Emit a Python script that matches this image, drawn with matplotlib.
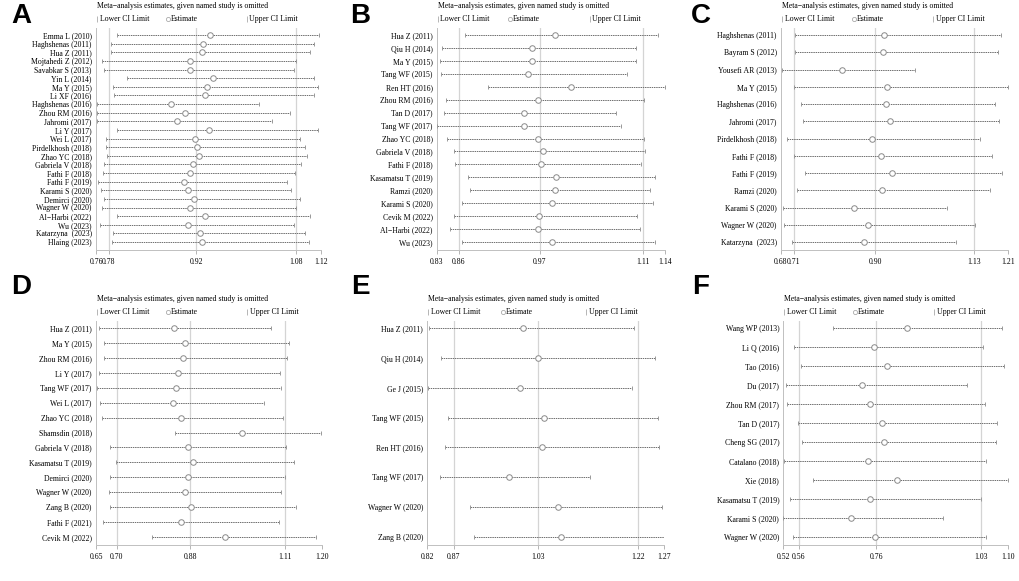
import matplotlib.pyplot as plt
from matplotlib.transforms import ScaledTranslation

plt.rcParams['font.family'] = ['Liberation Serif', 'DejaVu Serif']

# Panel A
a_studies = ['Emma L (2010)', 'Haghshenas (2011)', 'Hua Z (2011)', 'Mojtahedi Z (2012)', 'Savabkar S (2013)',
             'Yin L (2014)', 'Ma Y (2015)', 'Li XF (2016)', 'Haghshenas (2016)', 'Zhou RM (2016)',
             'Jahromi (2017)', 'Li Y (2017)', 'Wei L (2017)', 'Pirdelkhosh (2018)', 'Zhao YC (2018)',
             'Gabriela V (2018)', 'Fathi F (2018)', 'Fathi F (2019)', 'Karami S (2020)', 'Demirci (2020)',
             'Wagner W (2020)', 'Al−Harbi (2022)', 'Wu (2023)', 'Katarzyna  (2023)', 'Hlaing (2023)']
a_lo = [0.793, 0.784, 0.784, 0.770, 0.772, 0.810, 0.787, 0.789, 0.761, 0.762, 0.762, 0.793, 0.776, 0.776,
        0.778, 0.773, 0.771, 0.763, 0.768, 0.773, 0.769, 0.793, 0.766, 0.787, 0.786]
a_est = [0.942, 0.931, 0.929, 0.911, 0.911, 0.947, 0.938, 0.934, 0.880, 0.903, 0.890, 0.940, 0.918, 0.922,
         0.924, 0.915, 0.911, 0.900, 0.907, 0.917, 0.911, 0.935, 0.907, 0.927, 0.930]
a_hi = [1.117, 1.108, 1.103, 1.080, 1.076, 1.109, 1.115, 1.109, 1.020, 1.071, 1.041, 1.115, 1.086, 1.094,
        1.098, 1.088, 1.079, 1.065, 1.072, 1.086, 1.080, 1.102, 1.076, 1.095, 1.100]
a_ticks = [0.76, 0.78, 0.92, 1.08, 1.12]

# Panel B
b_studies = ['Hua Z (2011)', 'Qiu H (2014)', 'Ma Y (2015)', 'Tang WF (2015)', 'Ren HT (2016)',
             'Zhou RM (2016)', 'Tan D (2017)', 'Tang WF (2017)', 'Zhao YC (2018)', 'Gabriela V (2018)',
             'Fathi F (2018)', 'Kasamatsu T (2019)', 'Ramzi (2020)', 'Karami S (2020)', 'Cevik M (2022)',
             'Al−Harbi (2022)', 'Wu (2023)']
b_lo = [0.869, 0.837, 0.835, 0.836, 0.899, 0.843, 0.840, 0.831, 0.844, 0.854, 0.855, 0.873, 0.875, 0.865,
        0.853, 0.848, 0.864]
b_est = [0.991, 0.960, 0.959, 0.954, 1.012, 0.968, 0.949, 0.948, 0.968, 0.975, 0.972, 0.992, 0.990, 0.986,
         0.969, 0.968, 0.987]
b_hi = [1.130, 1.100, 1.100, 1.089, 1.140, 1.112, 1.074, 1.080, 1.111, 1.113, 1.108, 1.126, 1.120, 1.124,
        1.102, 1.106, 1.126]
b_ticks = [0.83, 0.86, 0.97, 1.11, 1.14]

# Panel C
c_studies = ['Haghshenas (2011)', 'Bayram S (2012)', 'Yousefi AR (2013)', 'Ma Y (2015)', 'Haghshenas (2016)',
             'Jahromi (2017)', 'Pirdelkhosh (2018)', 'Fathi F (2018)', 'Fathi F (2019)', 'Ramzi (2020)',
             'Karami S (2020)', 'Wagner W (2020)', 'Katarzyna  (2023)']
c_lo = [0.713, 0.713, 0.682, 0.710, 0.727, 0.732, 0.695, 0.710, 0.736, 0.717, 0.684, 0.688, 0.705]
c_est = [0.921, 0.919, 0.823, 0.926, 0.924, 0.933, 0.892, 0.913, 0.938, 0.915, 0.850, 0.882, 0.874]
c_hi = [1.192, 1.187, 0.993, 1.210, 1.179, 1.189, 1.145, 1.173, 1.196, 1.167, 1.066, 1.133, 1.087]
c_ticks = [0.68, 0.71, 0.90, 1.13, 1.21]

# Panel D
d_studies = ['Hua Z (2011)', 'Ma Y (2015)', 'Zhou RM (2016)', 'Li Y (2017)', 'Tang WF (2017)', 'Wei L (2017)',
             'Zhao YC (2018)', 'Shamsdin (2018)', 'Gabriela V (2018)', 'Kasamatsu T (2019)', 'Demirci (2020)',
             'Wagner W (2020)', 'Zang B (2020)', 'Fathi F (2021)', 'Cevik M (2022)']
d_lo = [0.657, 0.670, 0.669, 0.658, 0.652, 0.660, 0.665, 0.843, 0.684, 0.698, 0.684, 0.682, 0.684, 0.668, 0.786]
d_est = [0.841, 0.867, 0.863, 0.850, 0.845, 0.837, 0.858, 1.006, 0.873, 0.887, 0.873, 0.868, 0.882, 0.856, 0.964]
d_hi = [1.076, 1.121, 1.116, 1.098, 1.102, 1.060, 1.105, 1.198, 1.113, 1.133, 1.111, 1.102, 1.137, 1.097, 1.185]
d_ticks = [0.65, 0.70, 0.88, 1.11, 1.20]

# Panel E
e_studies = ['Hua Z (2011)', 'Qiu H (2014)', 'Ge J (2015)', 'Tang WF (2015)', 'Ren HT (2016)',
             'Tang WF (2017)', 'Wagner W (2020)', 'Zang B (2020)']
e_lo = [0.824, 0.846, 0.822, 0.860, 0.854, 0.844, 0.901, 0.909]
e_est = [1.001, 1.031, 0.997, 1.041, 1.038, 0.976, 1.068, 1.075]
e_hi = [1.213, 1.253, 1.210, 1.258, 1.261, 1.129, 1.267, 1.271]
e_ticks = [0.82, 0.87, 1.03, 1.22, 1.27]

# Panel F
f_studies = ['Wang WP (2013)', 'Li Q (2016)', 'Tao (2016)', 'Du (2017)', 'Zhou RM (2017)', 'Tan D (2017)',
             'Cheng SG (2017)', 'Catalano (2018)', 'Xie (2018)', 'Kasamatsu T (2019)', 'Karami S (2020)',
             'Wagner W (2020)']
f_lo = [0.649, 0.548, 0.566, 0.526, 0.530, 0.559, 0.569, 0.522, 0.597, 0.537, 0.520, 0.546]
f_est = [0.839, 0.755, 0.788, 0.723, 0.743, 0.774, 0.779, 0.738, 0.812, 0.744, 0.694, 0.756]
f_hi = [1.083, 1.035, 1.089, 0.994, 1.040, 1.070, 1.068, 1.042, 1.100, 1.029, 0.932, 1.042]
f_ticks = [0.52, 0.56, 0.76, 1.03, 1.10]

panels = [
    ('A', a_studies, a_lo, a_est, a_hi, a_ticks, [96, 28, 225, 222]),
    ('B', b_studies, b_lo, b_est, b_hi, b_ticks, [436.7, 28, 228.3, 222]),
    ('C', c_studies, c_lo, c_est, c_hi, c_ticks, [781, 28, 227.3, 222]),
    ('D', d_studies, d_lo, d_est, d_hi, d_ticks, [96, 321, 225.7, 224]),
    ('E', e_studies, e_lo, e_est, e_hi, e_ticks, [427.3, 321, 236.7, 224]),
    ('F', f_studies, f_lo, f_est, f_hi, f_ticks, [783.3, 321, 225, 224]),
]

W, H = 1020, 581
fig = plt.figure(figsize=(W / 100, H / 100), dpi=100)

line_col = '#6e6e6e'
ref_col = '#d4d4d4'
fs = 5.6

for letter, studies, lo, est, hi, ticks, (px, py, pw, ph) in panels:
    ax = fig.add_axes([px / W, 1 - (py + ph) / H, pw / W, ph / H])
    n = len(studies)
    rows = list(range(n))
    sp = (ph - 15) / (n - 1)
    ax.set_ylim(n - 1 + 8 / sp, -7 / sp)
    ax.set_xlim(ticks[0], ticks[-1])

    for t in ticks[1:4]:
        ax.axvline(t, color=ref_col, lw=0.9, zorder=0)

    for i in rows:
        ax.plot([lo[i], hi[i]], [i, i], color=line_col, lw=0.7, ls=(0, (1.5, 0.8)), zorder=2)
    ax.plot(lo, rows, ls='none', marker='|', ms=3.5, mew=0.7, color='#999999', zorder=3)
    ax.plot(hi, rows, ls='none', marker='|', ms=3.5, mew=0.7, color='#999999', zorder=3)
    ax.plot(est, rows, ls='none', marker='o', ms=4, mfc='white', mec='#8a8a8a', mew=0.7, zorder=4)

    ax.set_yticks(rows)
    ax.set_yticklabels(studies, fontsize=fs)
    ax.tick_params(axis='y', length=0, pad=3)
    ax.set_xticks(ticks)
    ax.set_xticklabels(['%.2f' % t for t in ticks], fontsize=fs)
    ax.tick_params(axis='x', length=3, width=0.6, color='#aaaaaa', pad=3)

    for s in ['top', 'right']:
        ax.spines[s].set_visible(False)
    for s in ['left', 'bottom']:
        ax.spines[s].set_color('#c0c0c0')
        ax.spines[s].set_linewidth(0.7)

    # title and legend above the plot area
    ax.annotate('Meta−analysis estimates, given named study is omitted', xy=(0, 1), xycoords='axes fraction',
                xytext=(1, 22), textcoords='offset pixels', fontsize=fs, va='center', ha='left')
    leg_trans = ax.transAxes + ScaledTranslation(0, 9 / 100, fig.dpi_scale_trans)
    legend_items = [(0.004, '|', 'Lower CI Limit'), (0.32, 'o', 'Estimate'), (0.67, '|', 'Upper CI Limit')]
    for lx, mk, lab in legend_items:
        ax.plot([lx], [1.0], transform=leg_trans, clip_on=False, marker=mk,
                ms=4 if mk == '|' else 3, mfc='white', mec='#aaaaaa', mew=0.6, ls='none')
        ax.annotate(lab, xy=(lx + 0.012, 1), xycoords='axes fraction', xytext=(0, 9),
                    textcoords='offset pixels', fontsize=fs, va='center', ha='left')

    lx_pix = {'A': 21, 'B': 360, 'C': 701, 'D': 21, 'E': 360, 'F': 701}[letter]
    ly_pix = 16 if letter in 'ABC' else 287
    fig.text(lx_pix / W, 1 - ly_pix / H, letter, fontsize=20, fontweight='bold',
             family='Liberation Sans', ha='center', va='center')

fig.savefig('out.png', dpi=100)
